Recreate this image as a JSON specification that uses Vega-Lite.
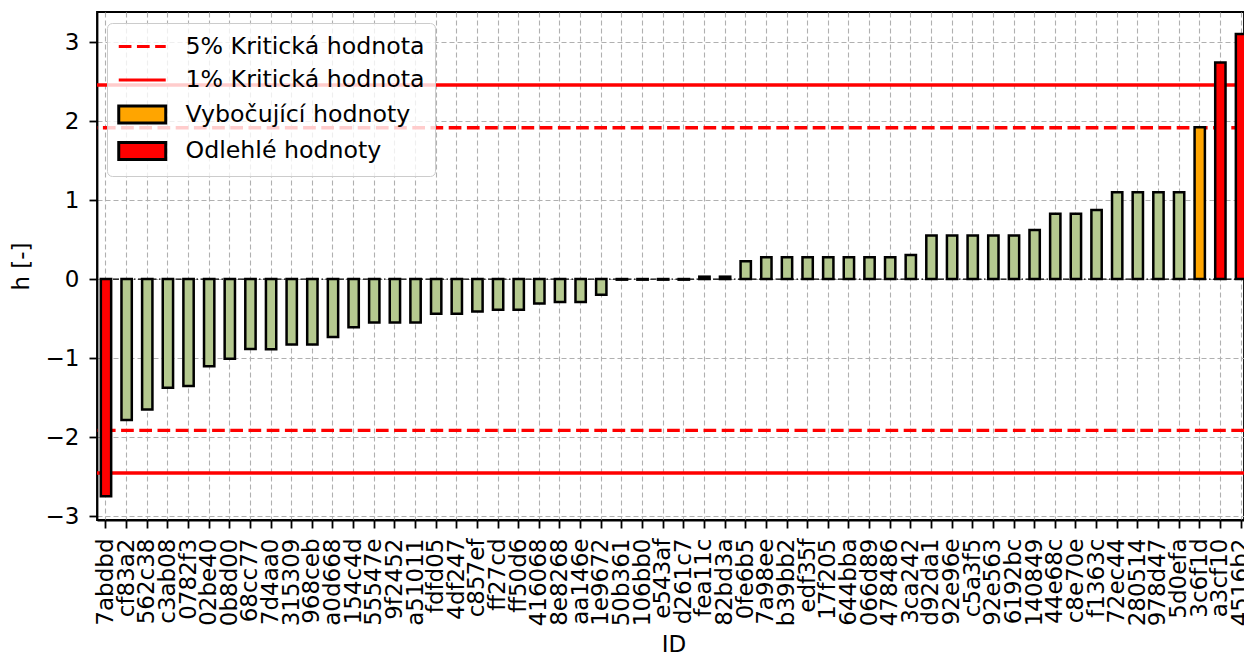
{
  "$schema": "https://vega.github.io/schema/vega-lite/v6.json",
  "autosize": "none",
  "width": 1147,
  "height": 508,
  "padding": {"left": 97, "top": 12, "right": 0, "bottom": 136},
  "config": {
    "font": "DejaVu Sans",
    "view": {"stroke": "black", "strokeWidth": 1.8},
    "axis": {
      "domainColor": "black", "domainWidth": 1.8,
      "tickColor": "black", "tickWidth": 1.8, "tickSize": 8,
      "labelFont": "DejaVu Sans", "labelFontSize": 23, "labelColor": "black",
      "titleFont": "DejaVu Sans", "titleFontSize": 23, "titleFontWeight": "normal", "titleColor": "black",
      "gridColor": "#b0b0b0", "gridDash": [5, 3], "gridWidth": 1.1
    }
  },
  "datasets": {
    "bars": [
      {"id": "7abdbd", "h": -2.75, "typ": "Odlehlé hodnoty"},
      {"id": "cf83a2", "h": -1.785, "typ": "normal"},
      {"id": "562c38", "h": -1.65, "typ": "normal"},
      {"id": "c3ab08", "h": -1.375, "typ": "normal"},
      {"id": "0782f3", "h": -1.355, "typ": "normal"},
      {"id": "02be40", "h": -1.105, "typ": "normal"},
      {"id": "0b8d00", "h": -1.01, "typ": "normal"},
      {"id": "68cc77", "h": -0.885, "typ": "normal"},
      {"id": "7d4aa0", "h": -0.89, "typ": "normal"},
      {"id": "315309", "h": -0.83, "typ": "normal"},
      {"id": "968ceb", "h": -0.83, "typ": "normal"},
      {"id": "a0d668", "h": -0.735, "typ": "normal"},
      {"id": "154c4d", "h": -0.61, "typ": "normal"},
      {"id": "55547e", "h": -0.55, "typ": "normal"},
      {"id": "9f2452", "h": -0.55, "typ": "normal"},
      {"id": "a51011", "h": -0.55, "typ": "normal"},
      {"id": "fdfd05", "h": -0.44, "typ": "normal"},
      {"id": "4df247", "h": -0.44, "typ": "normal"},
      {"id": "c857ef", "h": -0.41, "typ": "normal"},
      {"id": "ff27cd", "h": -0.39, "typ": "normal"},
      {"id": "ff50d6", "h": -0.39, "typ": "normal"},
      {"id": "416068", "h": -0.31, "typ": "normal"},
      {"id": "8e8268", "h": -0.29, "typ": "normal"},
      {"id": "aa146e", "h": -0.29, "typ": "normal"},
      {"id": "1e9672", "h": -0.2, "typ": "normal"},
      {"id": "50b361", "h": -0.008, "typ": "normal"},
      {"id": "106bb0", "h": -0.008, "typ": "normal"},
      {"id": "e543af", "h": -0.008, "typ": "normal"},
      {"id": "d261c7", "h": -0.008, "typ": "normal"},
      {"id": "fea11c", "h": 0.03, "typ": "normal"},
      {"id": "82bd3a", "h": 0.03, "typ": "normal"},
      {"id": "0fe6b5", "h": 0.225, "typ": "normal"},
      {"id": "7a98ee", "h": 0.275, "typ": "normal"},
      {"id": "b39bb2", "h": 0.275, "typ": "normal"},
      {"id": "edf35f", "h": 0.275, "typ": "normal"},
      {"id": "17f205", "h": 0.275, "typ": "normal"},
      {"id": "644bba", "h": 0.275, "typ": "normal"},
      {"id": "066d89", "h": 0.275, "typ": "normal"},
      {"id": "478486", "h": 0.275, "typ": "normal"},
      {"id": "3ca242", "h": 0.305, "typ": "normal"},
      {"id": "d92da1", "h": 0.55, "typ": "normal"},
      {"id": "92e96e", "h": 0.55, "typ": "normal"},
      {"id": "c5a3f5", "h": 0.55, "typ": "normal"},
      {"id": "92e563", "h": 0.55, "typ": "normal"},
      {"id": "6192bc", "h": 0.55, "typ": "normal"},
      {"id": "140849", "h": 0.62, "typ": "normal"},
      {"id": "44e68c", "h": 0.825, "typ": "normal"},
      {"id": "c8e70e", "h": 0.825, "typ": "normal"},
      {"id": "f1363c", "h": 0.875, "typ": "normal"},
      {"id": "72ec44", "h": 1.1, "typ": "normal"},
      {"id": "280514", "h": 1.1, "typ": "normal"},
      {"id": "978d47", "h": 1.1, "typ": "normal"},
      {"id": "5d0efa", "h": 1.1, "typ": "normal"},
      {"id": "3c6f1d", "h": 1.92, "typ": "Vybočující hodnoty"},
      {"id": "a3cf10", "h": 2.74, "typ": "Odlehlé hodnoty"},
      {"id": "4516b2", "h": 3.1, "typ": "Odlehlé hodnoty"}
    ],
    "crit5": [{"h": 1.915}, {"h": -1.915}],
    "crit1": [{"h": 2.456}, {"h": -2.456}],
    "zero": [{"h": 0}],
    "leg": [
      {"leg": "5% Kritická hodnota"},
      {"leg": "1% Kritická hodnota"},
      {"leg": "Vybočující hodnoty"},
      {"leg": "Odlehlé hodnoty"}
    ]
  },
  "encoding": {
    "y": {
      "field": "h", "type": "quantitative",
      "scale": {"domain": [-3.05, 3.38], "nice": false, "zero": false},
      "axis": {"values": [-3, -2, -1, 0, 1, 2, 3], "title": "h [-]", "grid": true, "labelPadding": 10, "titlePadding": 12}
    }
  },
  "layer": [
    {
      "data": {"name": "crit5"},
      "mark": {"type": "rule", "color": "#ff0000", "strokeWidth": 3.4, "strokeDash": [12.7, 5.5]},
      "encoding": {}
    },
    {
      "data": {"name": "crit1"},
      "mark": {"type": "rule", "color": "#ff0000", "strokeWidth": 3.4},
      "encoding": {}
    },
    {
      "data": {"name": "zero"},
      "mark": {"type": "rule", "color": "black", "strokeWidth": 1.2, "strokeDash": [6, 2.5, 1.5, 2.5]},
      "encoding": {}
    },
    {
      "data": {"name": "bars"},
      "mark": {"type": "bar", "stroke": "black", "strokeWidth": 2.5},
      "encoding": {
        "x": {
          "field": "id", "type": "nominal", "sort": null,
          "scale": {"paddingInner": 0.5, "paddingOuter": 0.186, "range": [0, 1153]},
          "axis": {"title": "ID", "labelAngle": -90, "labelPadding": 10, "titlePadding": 8, "grid": true, "bandPosition": 0.5, "labelOverlap": false}
        },
        "color": {
          "field": "typ", "type": "nominal",
          "scale": {"domain": ["normal", "Vybočující hodnoty", "Odlehlé hodnoty"], "range": ["#b5c98f", "#ffa500", "#ff0000"]},
          "legend": null
        }
      }
    },
    {
      "data": {"name": "leg"},
      "transform": [{"filter": "false"}],
      "mark": {"type": "point", "filled": true, "opacity": 1},
      "encoding": {
        "fill": {
          "field": "leg", "type": "nominal",
          "scale": {"domain": ["5% Kritická hodnota", "1% Kritická hodnota", "Vybočující hodnoty", "Odlehlé hodnoty"], "range": ["#ff0000", "#ff0000", "#ffa500", "#ff0000"]},
          "legend": {
            "title": null, "orient": "none", "legendX": 10, "legendY": 11,
            "padding": 10, "strokeColor": "#cccccc", "fillColor": "rgba(255,255,255,0.8)", "cornerRadius": 5,
            "symbolSize": 552, "symbolStrokeWidth": 3, "labelFont": "DejaVu Sans", "labelFontSize": 23.7, "labelColor": "black",
            "labelOffset": 41.5, "rowPadding": 7.5, "labelLimit": 400
          }
        },
        "stroke": {
          "field": "leg", "type": "nominal",
          "scale": {"domain": ["5% Kritická hodnota", "1% Kritická hodnota", "Vybočující hodnoty", "Odlehlé hodnoty"], "range": ["#ff0000", "#ff0000", "black", "black"]},
          "legend": {"title": null}
        },
        "shape": {
          "field": "leg", "type": "nominal",
          "scale": {"domain": ["5% Kritická hodnota", "1% Kritická hodnota", "Vybočující hodnoty", "Odlehlé hodnoty"], "range": ["M-1,0H3", "M-1,0H3", "M-1,-0.72H3V0.72H-1Z", "M-1,-0.72H3V0.72H-1Z"]},
          "legend": {"title": null}
        },
        "strokeDash": {
          "field": "leg", "type": "nominal",
          "scale": {"domain": ["5% Kritická hodnota", "1% Kritická hodnota", "Vybočující hodnoty", "Odlehlé hodnoty"], "range": [[12.7, 5.5], [1, 0], [1, 0], [1, 0]]},
          "legend": {"title": null}
        }
      }
    }
  ]
}
